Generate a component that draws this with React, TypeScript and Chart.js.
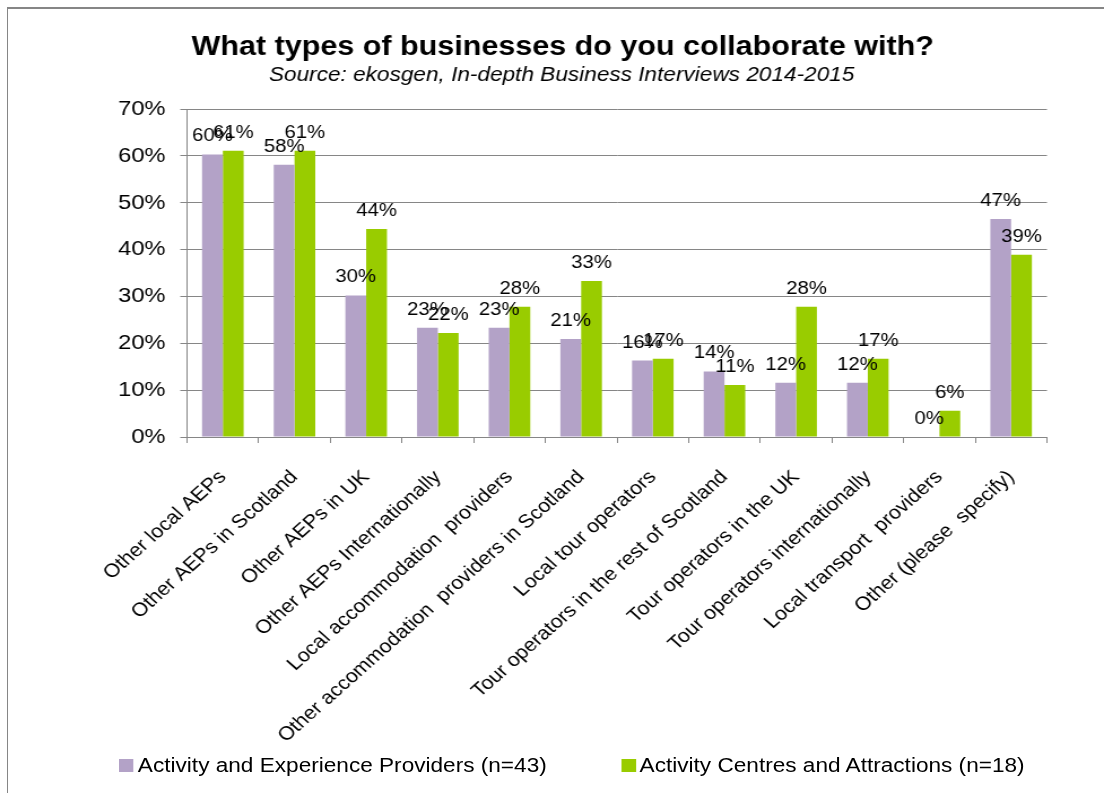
import React, { useEffect, useRef } from "react";
import { Chart, registerables } from "chart.js";

Chart.register(...registerables);

// ---------- data ----------
const categories: string[] = [
  "Other local AEPs",
  "Other AEPs in Scotland",
  "Other AEPs in UK",
  "Other AEPs Internationally",
  "Local accommodation  providers",
  "Other accommodation  providers in Scotland",
  "Local tour operators",
  "Tour operators in the rest of Scotland",
  "Tour operators in the UK",
  "Tour operators internationally",
  "Local transport  providers",
  "Other (please  specify)",
];

const aepValues: number[] = [60.3, 58.1, 30.2, 23.3, 23.3, 20.9, 16.3, 14.0, 11.6, 11.6, 0, 46.5];
const acaValues: number[] = [61.1, 61.1, 44.4, 22.2, 27.8, 33.3, 16.7, 11.1, 27.8, 16.7, 5.6, 38.9];

const seriesNames: string[] = [
  "Activity and Experience Providers (n=43)",
  "Activity Centres and Attractions (n=18)",
];
const seriesColors: string[] = ["#B3A2C7", "#99CC00"];

const yMin = 0;
const yMax = 70;
const yStep = 10;

const titleText = "What types of businesses do you collaborate with?";
const subtitleText = "Source: ekosgen, In-depth Business Interviews 2014-2015";

// ---------- layout constants ----------
const STRETCH = 1.13;
const CW = Math.round(1104 / STRETCH);
const CH = 793;
const FONT = '"Liberation Sans", Arial, Helvetica, sans-serif';
const GRID = "#868686";

const titlePlugin = {
  id: "customTitle",
  afterDraw(chart: any) {
    const ctx = chart.ctx;
    ctx.save();
    ctx.fillStyle = "#000";
    ctx.textAlign = "center";
    ctx.textBaseline = "alphabetic";
    ctx.font = `bold 27px ${FONT}`;
    ctx.fillText(titleText, 498, 55);
    ctx.font = `italic 20px ${FONT}`;
    ctx.fillText(subtitleText, 497, 81);
    ctx.restore();
  },
};

const barLabelPlugin = {
  id: "barLabels",
  afterDatasetsDraw(chart: any) {
    const ctx = chart.ctx;
    ctx.save();
    ctx.font = `18px ${FONT}`;
    ctx.fillStyle = "#000";
    ctx.textAlign = "center";
    ctx.textBaseline = "alphabetic";
    chart.data.datasets.forEach((ds: any, i: number) => {
      const meta = chart.getDatasetMeta(i);
      meta.data.forEach((bar: any, j: number) => {
        const v = ds.data[j] as number;
        ctx.fillText(`${Math.round(v)}%`, bar.x, bar.y - 13);
      });
    });
    ctx.restore();
  },
};

export default function App() {
  const canvasRef = useRef<HTMLCanvasElement | null>(null);

  useEffect(() => {
    if (!canvasRef.current) return;
    const chart = new Chart(canvasRef.current, {
      type: "bar",
      data: {
        labels: categories,
        datasets: [
          {
            label: seriesNames[0],
            data: aepValues,
            backgroundColor: seriesColors[0],
            borderWidth: 0,
            categoryPercentage: 0.58,
            barPercentage: 1.0,
          },
          {
            label: seriesNames[1],
            data: acaValues,
            backgroundColor: seriesColors[1],
            borderWidth: 0,
            categoryPercentage: 0.58,
            barPercentage: 1.0,
          },
        ],
      },
      options: {
        responsive: false,
        animation: false,
        devicePixelRatio: 1,
        layout: { padding: { left: 14, right: 50.5, top: 109, bottom: 0 } },
        plugins: {
          legend: { display: false },
          title: { display: false },
          tooltip: { enabled: false },
        },
        scales: {
          x: {
            afterFit: (scale: any) => {
              scale.height = 356;
            },
            grid: {
              display: true,
              drawOnChartArea: false,
              drawTicks: true,
              tickLength: 6,
              color: GRID,
              offset: true,
            },
            border: { display: true, color: GRID, width: 1 },
            ticks: {
              autoSkip: false,
              maxRotation: 45,
              minRotation: 45,
              color: "#000",
              padding: 23,
              font: { family: FONT, size: 19 },
            },
          },
          y: {
            min: yMin,
            max: yMax,
            afterFit: (scale: any) => {
              scale.width = 151.5;
            },
            grid: {
              color: GRID,
              lineWidth: 1,
              drawTicks: true,
              tickLength: 6,
            },
            border: { display: true, color: GRID, width: 1 },
            ticks: {
              stepSize: yStep,
              color: "#000",
              padding: 13,
              font: { family: FONT, size: 21 },
              callback: (v: any) => `${v}%`,
            },
          },
        },
      },
      plugins: [titlePlugin, barLabelPlugin],
    });
    return () => chart.destroy();
  }, []);

  const legendText: React.CSSProperties = {
    position: "absolute",
    top: 755,
    fontFamily: FONT,
    fontSize: 20,
    lineHeight: "20px",
    color: "#000",
    whiteSpace: "nowrap",
  };
  const sq = (left: number, color: string): React.CSSProperties => ({
    position: "absolute",
    left,
    top: 759,
    width: 13,
    height: 13,
    background: color,
  });

  return (
    <div style={{ position: "fixed", left: 0, top: 0, width: 1104, height: 793, overflow: "hidden", background: "#fff" }}>
      <div
        style={{
          position: "absolute",
          left: 7,
          top: 7,
          width: 1200,
          height: 900,
          borderTop: `2px solid ${GRID}`,
          borderLeft: `1px solid ${GRID}`,
        }}
      />
      <div
        style={{
          position: "absolute",
          left: 0,
          top: 0,
          width: CW,
          height: CH,
          transform: `scaleX(${1104 / CW})`,
          transformOrigin: "0 0",
        }}
      >
        <canvas ref={canvasRef} width={CW} height={CH} style={{ width: CW, height: CH, display: "block" }} />
        <div style={sq(105, seriesColors[0])} />
        <div style={{ ...legendText, left: 122 }}>{seriesNames[0]}</div>
        <div style={sq(550, seriesColors[1])} />
        <div style={{ ...legendText, left: 566 }}>{seriesNames[1]}</div>
      </div>
    </div>
  );
}
